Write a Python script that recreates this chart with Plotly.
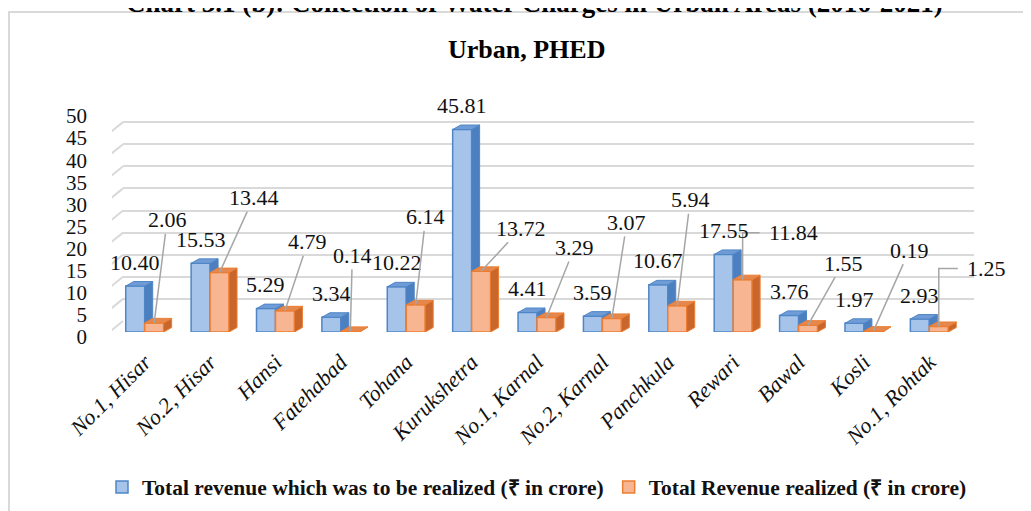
import plotly.graph_objects as go

# data
sites = ["No.1, Hisar", "No.2, Hisar", "Hansi", "Fatehabad", "Tohana", "Kurukshetra",
         "No.1, Karnal", "No.2, Karnal", "Panchkula", "Rewari", "Bawal", "Kosli", "No.1, Rohtak"]
to_be_realized = [10.40, 15.53, 5.29, 3.34, 10.22, 45.81, 4.41, 3.59, 10.67, 17.55, 3.76, 1.97, 2.93]
realized = [2.06, 13.44, 4.79, 0.14, 6.14, 13.72, 3.29, 3.07, 5.94, 11.84, 1.55, 0.19, 1.25]
y_tick_vals = [0, 5, 10, 15, 20, 25, 30, 35, 40, 45, 50]

# label placement for the orange series (pixels from bar top), elbow = bent leader line
realized_label_dx = [13, 34, 23, 2, 10, 40, 28, 15, 13, 24, 35, 36, 26]
realized_label_dy = [103, 75, 69, 76, 88, 43, 70, 96, 106, 47, 62, 81, 58]
realized_label_elbow = [False] * 9 + [True, False, False, True]

W, H = 1031, 511
PAGE_PAD = 8  # the page body adds 8px around the figure


def px(x):
    return (x - PAGE_PAD) / W


def py(y):
    return (H - (y - PAGE_PAD)) / H


FONT = "Liberation Serif, Times New Roman, serif"
TXT = "#111111"

colors = {
    "blue_front": "#A6C3EA", "blue_edge": "#4F86C6", "blue_side": "#4C7FC0", "blue_top": "#6F9CD6",
    "orange_front": "#F7B592", "orange_edge": "#ED7D31", "orange_side": "#C9662B", "orange_top": "#E4884F",
}

bar_w = 0.29          # width of each bar in category units
dx = 8 / 65.4         # depth offset (x) in category units
dy = 4.5 / 4.42       # depth offset (y) in value units

idx = list(range(len(sites)))

fig = go.Figure()

# back wall gridlines live on x/y so they are drawn under the bars
fig.add_trace(go.Scatter(x=[None], y=[None], xaxis="x", yaxis="y",
                         showlegend=False, hoverinfo="skip"))

fig.add_trace(go.Bar(
    x=idx, y=to_be_realized, width=bar_w, offset=-bar_w,
    name="Total revenue which was to be realized (₹ in crore)",
    marker=dict(color=colors["blue_front"], line=dict(color=colors["blue_edge"], width=1.5)),
    xaxis="x2", yaxis="y2", hoverinfo="skip",
))
fig.add_trace(go.Bar(
    x=idx, y=realized, width=bar_w, offset=0,
    name="Total Revenue realized (₹ in crore)",
    marker=dict(color=colors["orange_front"], line=dict(color=colors["orange_edge"], width=1.5)),
    xaxis="x2", yaxis="y2", hoverinfo="skip",
))


def faces(xs, ys):
    return go.Scatter(x=xs, y=ys, mode="lines", fill="toself", showlegend=False,
                      hoverinfo="skip", xaxis="x2", yaxis="y2")


# 3d side and top faces
bs_x, bs_y, bt_x, bt_y, os_x, os_y, ot_x, ot_y = [], [], [], [], [], [], [], []
for i, b, o in zip(idx, to_be_realized, realized):
    # blue side, only the part not hidden behind the orange bar
    bs_x += [i, i + dx, i + dx, i, i, None]
    bs_y += [o, o + dy, b + dy, b, o, None]
    bt_x += [i - bar_w, i, i + dx, i - bar_w + dx, i - bar_w, None]
    bt_y += [b, b, b + dy, b + dy, b, None]
    os_x += [i + bar_w, i + bar_w + dx, i + bar_w + dx, i + bar_w, i + bar_w, None]
    os_y += [0, dy, o + dy, o, 0, None]
    ot_x += [i, i + bar_w, i + bar_w + dx, i + dx, i, None]
    ot_y += [o, o, o + dy, o + dy, o, None]

for xs, ys, key, edge in [(bs_x, bs_y, "blue_side", "blue_edge"), (bt_x, bt_y, "blue_top", "blue_edge"),
                          (os_x, os_y, "orange_side", "orange_edge"), (ot_x, ot_y, "orange_top", "orange_edge")]:
    tr = faces(xs, ys)
    tr.update(fillcolor=colors[key], line=dict(color=colors[edge], width=1))
    fig.add_trace(tr)

annotations = []
shapes = []
label_font = dict(family=FONT, size=22, color=TXT)

# blue value labels
for i, b in zip(idx, to_be_realized):
    annotations.append(dict(x=i - bar_w / 2, y=b, xref="x2", yref="y2", text=f"{b:.2f}",
                            showarrow=False, yshift=24, font=label_font))

# orange value labels with leader lines
for i, o, ldx, ldy, elbow in zip(idx, realized, realized_label_dx, realized_label_dy, realized_label_elbow):
    xc = i + bar_w / 2
    if elbow:
        annotations.append(dict(x=xc, y=o, xref="x2", yref="y2", text=f"{o:.2f}", showarrow=False,
                                xanchor="left", yanchor="middle", xshift=ldx, yshift=ldy, font=label_font))
        shapes.append(dict(type="path", xref="x2", yref="y2", xsizemode="pixel", ysizemode="pixel",
                           xanchor=xc, yanchor=o, path=f"M0,0 L0,{ldy} L{ldx - 7},{ldy}",
                           line=dict(color="#A6A6A6", width=1.5), layer="above"))
    else:
        annotations.append(dict(x=xc, y=o, xref="x2", yref="y2", text=f"{o:.2f}", showarrow=True,
                                arrowhead=0, arrowwidth=1.5, arrowcolor="#A6A6A6", ax=ldx, ay=-ldy,
                                standoff=0, font=label_font))

# perspective slants at the left of the wall
for v in y_tick_vals:
    shapes.append(dict(type="line", xref="x2", yref="y2", xsizemode="pixel", ysizemode="pixel",
                       xanchor=-0.5, yanchor=v, x0=-5, x1=11, y0=-2, y1=11,
                       line=dict(color="#D9D9D9", width=2), layer="below"))

# chart border
shapes.append(dict(type="rect", xref="paper", yref="paper", x0=1 / W, x1=1.02, y0=-0.05, y1=py(12),
                   line=dict(color="#D9D9D9", width=2), fillcolor="rgba(0,0,0,0)", layer="below"))

annotations.append(dict(text="<b>Chart 3.1 (b): Collection of Water Charges in Urban Areas (2016-2021)</b>",
                        x=px(534), y=py(3), xref="paper", yref="paper", showarrow=False,
                        yanchor="middle", font=dict(family=FONT, size=27, color="#000")))
annotations.append(dict(text="<b>Urban, PHED</b>", x=px(526), y=py(49), xref="paper", yref="paper",
                        showarrow=False, yanchor="middle", font=dict(family=FONT, size=26, color="#000")))

fig.update_layout(
    width=W, height=H,
    margin=dict(l=0, r=0, t=0, b=0, autoexpand=False),
    paper_bgcolor="white", plot_bgcolor="rgba(0,0,0,0)",
    barmode="overlay",
    xaxis=dict(domain=[px(123), px(974)], range=[0, 1], visible=False, fixedrange=True, automargin=False),
    yaxis=dict(domain=[py(321), py(100)], range=[0, 50], anchor="x", tickvals=y_tick_vals,
               showgrid=True, gridcolor="#D9D9D9", gridwidth=2, zeroline=False,
               showticklabels=False, showline=False, automargin=False),
    xaxis2=dict(domain=[px(112), px(962)], range=[-0.5, 12.5], anchor="y2", tickvals=idx, ticktext=sites,
                tickangle=-45, showgrid=False, zeroline=False, showline=False, ticks="",
                ticklabelstandoff=12, automargin=False,
                tickfont=dict(family=FONT, size=22, color=TXT, style="italic")),
    yaxis2=dict(domain=[py(332), py(111)], range=[0, 50], anchor="x2", tickvals=y_tick_vals,
                showgrid=False, zeroline=False, showline=False, ticks="",
                ticklabelstandoff=24, ticklabelshift=5, automargin=False,
                tickfont=dict(family=FONT, size=21, color=TXT)),
    legend=dict(orientation="h", x=px(537), xanchor="center", y=py(487), yanchor="middle",
                font=dict(family=FONT, size=21.5, color=TXT, weight="bold"), itemwidth=30,
                bgcolor="rgba(0,0,0,0)"),
    annotations=annotations,
    shapes=shapes,
    showlegend=True,
)

fig.write_html("out.html")
